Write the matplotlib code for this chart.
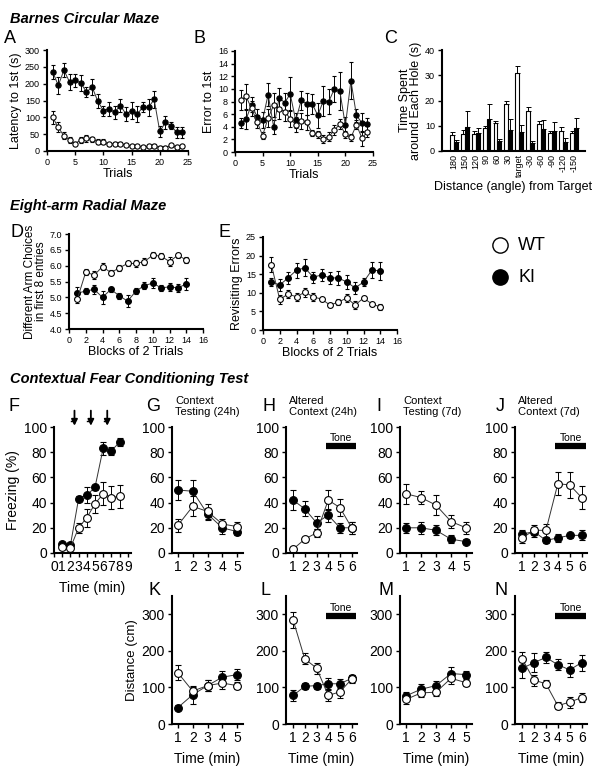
import numpy as np
import matplotlib.pyplot as plt
from matplotlib.lines import Line2D

plt.rcParams['font.family'] = ['Liberation Sans', 'DejaVu Sans']

# ---- Barnes circular maze ----
trials = np.arange(1, 25)
lat_ki = [235, 195, 240, 205, 210, 202, 175, 190, 148, 120, 125, 115,
          135, 110, 120, 110, 130, 130, 153, 58, 85, 75, 55, 55]
lat_ki_err = [20, 25, 20, 25, 20, 25, 15, 25, 20, 15, 20, 20,
              20, 20, 25, 25, 15, 25, 25, 15, 20, 10, 15, 15]
lat_wt = [100, 70, 45, 33, 22, 33, 38, 35, 28, 28, 20, 22,
          22, 18, 15, 15, 12, 14, 16, 10, 10, 17, 12, 14]
lat_wt_err = [20, 15, 10, 8, 5, 8, 10, 8, 8, 8, 5, 5,
              5, 4, 4, 4, 4, 4, 4, 4, 4, 5, 4, 4]

err_ki = [4.6, 5.2, 7.5, 5.6, 5.1, 9.1, 4.0, 8.6, 7.8, 9.2, 5.0, 8.2,
          7.6, 7.6, 5.8, 8.1, 8.0, 10.0, 9.6, 4.2, 11.3, 5.8, 4.6, 4.4]
err_ki_err = [0.8, 1.5, 1.2, 1.2, 1.3, 1.8, 1.1, 1.6, 1.5, 2.7, 1.2, 1.5,
              1.7, 1.6, 2.0, 2.4, 2.0, 2.1, 3.0, 1.3, 2.9, 1.0, 1.5, 1.0]
err_wt = [8.2, 8.8, 6.9, 4.8, 2.6, 5.4, 7.4, 6.8, 6.4, 5.3, 4.3, 4.9,
          4.7, 3.0, 2.8, 2.1, 2.4, 3.5, 4.4, 2.8, 2.3, 4.3, 2.2, 3.2]
err_wt_err = [1.6, 2.0, 1.2, 1.0, 0.6, 1.4, 1.9, 1.5, 1.5, 1.3, 1.2, 1.2,
              1.2, 0.5, 0.6, 0.6, 0.7, 0.8, 0.8, 0.6, 0.6, 0.7, 1.2, 0.9]

angles = ['180', '150', '120', '90', '60', '30', 'target',
          '-30', '-60', '-90', '-120', '-150']
hole_wt = [6.5, 6.8, 6.8, 9, 11, 18.5, 31, 16, 10.5, 7, 8, 7]
hole_wt_err = [1, 1.5, 1, 1, 1, 1.5, 2.5, 1.5, 1.2, 1, 1.5, 1]
hole_ki = [3.5, 9.5, 7, 12.5, 3.8, 8.5, 7.7, 3, 8.8, 8, 3.5, 9]
hole_ki_err = [1, 6.5, 2, 6, 1, 4, 2.5, 1, 3.5, 3.5, 1.5, 4]

# ---- Eight-arm radial maze ----
blocks = np.arange(1, 15)
arm_wt = [4.95, 5.8, 5.7, 5.97, 5.78, 5.93, 6.07, 6.07, 6.13, 6.33, 6.3, 6.13, 6.33, 6.18]
arm_wt_err = [0.12, 0.1, 0.12, 0.12, 0.07, 0.1, 0.08, 0.12, 0.12, 0.1, 0.1, 0.15, 0.08, 0.1]
arm_ki = [5.13, 5.2, 5.25, 5.0, 5.25, 5.05, 4.88, 5.2, 5.37, 5.45, 5.3, 5.33, 5.3, 5.42]
arm_ki_err = [0.2, 0.1, 0.15, 0.2, 0.08, 0.1, 0.2, 0.1, 0.12, 0.15, 0.1, 0.12, 0.12, 0.2]

rev_ki = [12.9, 12.1, 14.0, 16.1, 16.7, 14.2, 14.8, 14.0, 14.0, 12.9, 11.3, 12.9, 16.1, 15.9]
rev_ki_err = [1.2, 1.5, 1.5, 2.0, 2.3, 1.5, 1.5, 1.5, 1.8, 2.0, 1.5, 1.0, 2.2, 2.5]
rev_wt = [17.5, 8.2, 9.7, 8.9, 10.2, 8.9, 8.3, 6.7, 7.5, 8.6, 6.7, 8.6, 7.0, 6.2]
rev_wt_err = [2.0, 1.2, 1.0, 1.0, 1.2, 1.0, 0.6, 0.6, 0.8, 1.0, 1.0, 0.6, 0.6, 0.8]

# ---- Contextual fear conditioning ----
cond_min = np.arange(1, 9)
frz_cond_ki = [7, 6, 43, 46, 52, 83, 81, 88]
frz_cond_ki_err = [1, 1, 2, 6, 2, 5, 3, 3]
frz_cond_wt = [5, 4, 20, 28, 39, 47, 44, 45]
frz_cond_wt_err = [1, 1, 4, 7, 7, 9, 9, 9]
shock_times = [2.5, 4.5, 6.5]

min5 = np.arange(1, 6)
min6 = np.arange(1, 7)
frz_ctx24_ki = [50, 49, 31, 20, 17]
frz_ctx24_ki_err = [8, 9, 5, 5, 3]
frz_ctx24_wt = [22, 37, 33, 23, 21]
frz_ctx24_wt_err = [5, 8, 6, 4, 4]
frz_alt24_ki = [42, 35, 24, 30, 20, 20]
frz_alt24_ki_err = [8, 6, 5, 5, 4, 5]
frz_alt24_wt = [3, 11, 16, 42, 36, 20]
frz_alt24_wt_err = [1, 2, 3, 8, 7, 5]
frz_ctx7_ki = [20, 20, 18, 11, 9]
frz_ctx7_ki_err = [4, 5, 4, 3, 2]
frz_ctx7_wt = [47, 44, 38, 25, 20]
frz_ctx7_wt_err = [8, 5, 8, 5, 5]
frz_alt7_ki = [15, 17, 10, 12, 14, 14]
frz_alt7_ki_err = [3, 4, 2, 3, 2, 4]
frz_alt7_wt = [12, 18, 18, 55, 54, 44]
frz_alt7_wt_err = [4, 4, 5, 9, 10, 9]

dist_ctx24_ki = [45, 80, 105, 128, 135]
dist_ctx24_ki_err = [8, 25, 15, 18, 15]
dist_ctx24_wt = [140, 90, 105, 112, 105]
dist_ctx24_wt_err = [20, 12, 15, 15, 10]
dist_alt24_ki = [78, 103, 105, 110, 110, 125]
dist_alt24_ki_err = [15, 8, 8, 15, 12, 10]
dist_alt24_wt = [285, 178, 153, 78, 88, 123]
dist_alt24_wt_err = [22, 15, 15, 15, 18, 10]
dist_ctx7_ki = [77, 95, 105, 138, 135]
dist_ctx7_ki_err = [10, 15, 12, 18, 10]
dist_ctx7_wt = [67, 85, 87, 125, 113]
dist_ctx7_wt_err = [12, 10, 10, 15, 10]
dist_alt7_ki = [152, 168, 182, 162, 148, 168]
dist_alt7_ki_err = [25, 25, 15, 15, 20, 22]
dist_alt7_wt = [178, 120, 110, 50, 60, 72]
dist_alt7_wt_err = [20, 15, 10, 10, 15, 12]

W, H = 600, 776
fig = plt.figure(figsize=(6, 7.76), dpi=100)


def box(l, r, t, b):
    return [l / W, 1 - b / H, (r - l) / W, (b - t) / H]


def style(ax, size):
    for s in ['top', 'right']:
        ax.spines[s].set_visible(False)
    for s in ['left', 'bottom']:
        ax.spines[s].set_linewidth(1.5)
    ax.tick_params(direction='out', length=3, width=1, labelsize=size, pad=2)


def plot_pair(ax, x, wt, wt_err, ki, ki_err, ms, cap=1.8):
    kw = dict(fmt='-o', color='0.2', ecolor='k', lw=0.7, elinewidth=0.7,
              capsize=cap, capthick=0.7, ms=ms, mec='k', mew=0.8)
    ax.errorbar(x, ki, yerr=ki_err, mfc='k', **kw)
    ax.errorbar(x, wt, yerr=wt_err, mfc='w', **kw)


def letter(x, y, s):
    fig.text(x / W, 1 - y / H, s, fontsize=13, va='top', ha='left')


def title(y, s):
    fig.text(10 / W, 1 - y / H, s, fontsize=10.5, fontweight='bold',
             fontstyle='italic', va='top', ha='left')


def tone(ax, y):
    ax.plot([3.8, 6.4], [y, y], color='k', lw=4.5, solid_capstyle='butt')
    ax.text(5.1, y * 1.025, 'Tone', fontsize=7.5, ha='center', va='bottom')


title(12, 'Barnes Circular Maze')
title(199, 'Eight-arm Radial Maze')
title(372, 'Contextual Fear Conditioning Test')

# A
ax = fig.add_axes(box(47, 188, 50, 151))
plot_pair(ax, trials, lat_wt, lat_wt_err, lat_ki, lat_ki_err, 3.8, 1.5)
ax.set_xlim(0, 25)
ax.set_ylim(0, 300)
ax.set_xticks(range(0, 26, 5))
ax.set_yticks(range(0, 301, 50))
ax.set_xlabel('Trials', fontsize=9, labelpad=1)
ax.set_ylabel('Latency to 1st (s)', fontsize=9, labelpad=2)
style(ax, 6.5)
letter(4, 30, 'A')

# B
ax = fig.add_axes(box(235, 373, 51, 152))
plot_pair(ax, trials, err_wt, err_wt_err, err_ki, err_ki_err, 3.8, 1.5)
ax.set_xlim(0, 25)
ax.set_ylim(0, 16)
ax.set_xticks(range(0, 26, 5))
ax.set_yticks(range(0, 17, 2))
ax.set_xlabel('Trials', fontsize=9, labelpad=1)
ax.set_ylabel('Error to 1st', fontsize=9, labelpad=2)
style(ax, 6.5)
letter(194, 30, 'B')

# C
ax = fig.add_axes(box(442, 585, 50, 151))
pos = np.arange(len(angles))
bw = 0.36
ekw = dict(lw=0.7, capsize=1.8, capthick=0.7)
ax.bar(pos, hole_wt, bw, color='w', edgecolor='k', lw=0.8,
       yerr=[np.zeros(len(pos)), hole_wt_err], error_kw=ekw)
ax.bar(pos + bw, hole_ki, bw, color='k', edgecolor='k', lw=0.8,
       yerr=[np.zeros(len(pos)), hole_ki_err], error_kw=ekw)
ax.set_xlim(-0.9, 12.2)
ax.set_ylim(0, 40)
ax.set_yticks(range(0, 41, 10))
ax.set_xticks(pos + bw / 2)
ax.set_xticklabels(angles, rotation=90)
ax.set_xlabel('Distance (angle) from Target', fontsize=9, labelpad=3)
ax.set_ylabel('Time Spent\naround Each Hole (s)', fontsize=9, labelpad=2, linespacing=0.9)
style(ax, 6.5)
ax.tick_params(axis='x', length=0)
letter(384, 30, 'C')

# D
ax = fig.add_axes(box(69, 203, 234, 329))
plot_pair(ax, blocks, arm_wt, arm_wt_err, arm_ki, arm_ki_err, 4.2, 1.6)
ax.set_xlim(0, 16)
ax.set_ylim(4, 7)
ax.set_xticks(range(0, 17, 2))
ax.set_yticks(np.arange(4, 7.01, 0.5))
ax.set_yticklabels(['4.0', '4.5', '5.0', '5.5', '6.0', '6.5', '7.0'])
ax.set_xlabel('Blocks of 2 Trials', fontsize=9, labelpad=1)
ax.set_ylabel('Different Arm Choices\nin first 8 entries', fontsize=8.5,
              labelpad=2, linespacing=0.85)
style(ax, 6.5)
letter(10, 224, 'D')

# E
ax = fig.add_axes(box(263, 397, 237, 330))
plot_pair(ax, blocks, rev_wt, rev_wt_err, rev_ki, rev_ki_err, 4.2, 1.6)
ax.set_xlim(0, 16)
ax.set_ylim(0, 25)
ax.set_xticks(range(0, 17, 2))
ax.set_yticks(range(0, 26, 5))
ax.set_xlabel('Blocks of 2 Trials', fontsize=9, labelpad=1)
ax.set_ylabel('Revisiting Errors', fontsize=9, labelpad=2)
style(ax, 6.5)
letter(218, 224, 'E')

# legend
for yy, fc, lab in [(245, 'w', 'WT'), (277, 'k', 'KI')]:
    fig.add_artist(Line2D([500 / W], [1 - yy / H], marker='o', ms=11, mfc=fc,
                          mec='k', mew=1, transform=fig.transFigure))
    fig.text(518 / W, 1 - yy / H, lab, fontsize=13, va='center', ha='left')

# F
ax = fig.add_axes(box(54, 131, 427, 553))
plot_pair(ax, cond_min, frz_cond_wt, frz_cond_wt_err, frz_cond_ki, frz_cond_ki_err, 5.6, 2)
ax.set_xlim(0, 9.4)
ax.set_ylim(0, 100)
ax.set_xticks(range(0, 10))
ax.set_yticks(range(0, 101, 20))
ax.set_xlabel('Time (min)', fontsize=10, labelpad=5)
ax.set_ylabel('Freezing (%)', fontsize=10, labelpad=3)
style(ax, 10)
for t in shock_times:
    ax.annotate('', xy=(t, 101), xytext=(t, 113), annotation_clip=False,
                arrowprops=dict(arrowstyle='-|>', color='k', lw=1.3,
                                mutation_scale=9, shrinkA=0, shrinkB=0))
    ax.plot([t - 0.45, t], [105, 105], color='k', lw=1, clip_on=False)
letter(9, 398, 'F')

panels_top = [
    (172, 243, min5, frz_ctx24_wt, frz_ctx24_wt_err, frz_ctx24_ki, frz_ctx24_ki_err,
     'G', 146, 'Context\nTesting (24h)', False),
    (286, 357, min6, frz_alt24_wt, frz_alt24_wt_err, frz_alt24_ki, frz_alt24_ki_err,
     'H', 262, 'Altered\nContext (24h)', True),
    (400, 472, min5, frz_ctx7_wt, frz_ctx7_wt_err, frz_ctx7_ki, frz_ctx7_ki_err,
     'I', 376, 'Context\nTesting (7d)', False),
    (515, 587, min6, frz_alt7_wt, frz_alt7_wt_err, frz_alt7_ki, frz_alt7_ki_err,
     'J', 496, 'Altered\nContext (7d)', True),
]
for l, r, x, wt, wte, ki, kie, lt, lx, sub, has_tone in panels_top:
    ax = fig.add_axes(box(l, r, 427, 553))
    plot_pair(ax, x, wt, wte, ki, kie, 5.6, 2)
    ax.set_xlim((0.4, 6.45) if has_tone else (0.6, 5.4))
    ax.set_ylim(0, 100)
    ax.set_xticks(x)
    ax.set_yticks(range(0, 101, 20))
    style(ax, 10)
    if has_tone:
        tone(ax, 85)
    letter(lx, 398, lt)
    fig.text((l + 3) / W, 1 - 396 / H, sub, fontsize=8, va='top', ha='left',
             linespacing=1.1)

bottom_rows = [
    (172, 243, min5, dist_ctx24_wt, dist_ctx24_wt_err, dist_ctx24_ki, dist_ctx24_ki_err, 'K', 148, False),
    (286, 357, min6, dist_alt24_wt, dist_alt24_wt_err, dist_alt24_ki, dist_alt24_ki_err, 'L', 261, True),
    (400, 472, min5, dist_ctx7_wt, dist_ctx7_wt_err, dist_ctx7_ki, dist_ctx7_ki_err, 'M', 378, False),
    (515, 587, min6, dist_alt7_wt, dist_alt7_wt_err, dist_alt7_ki, dist_alt7_ki_err, 'N', 494, True),
]
for i, (l, r, x, wt, wte, ki, kie, lt, lx, has_tone) in enumerate(bottom_rows):
    ax = fig.add_axes(box(l, r, 596, 724))
    plot_pair(ax, x, wt, wte, ki, kie, 5.6, 2)
    ax.set_xlim((0.4, 6.45) if has_tone else (0.6, 5.4))
    ax.set_ylim(0, 350)
    ax.set_xticks(x)
    ax.set_yticks(range(0, 301, 100))
    ax.set_xlabel('Time (min)', fontsize=10, labelpad=5)
    if i == 0:
        ax.set_ylabel('Distance (cm)', fontsize=9.5, labelpad=3)
    style(ax, 10)
    if has_tone:
        tone(ax, 295)
    letter(lx, 582, lt)

fig.savefig('out.png', dpi=100)
